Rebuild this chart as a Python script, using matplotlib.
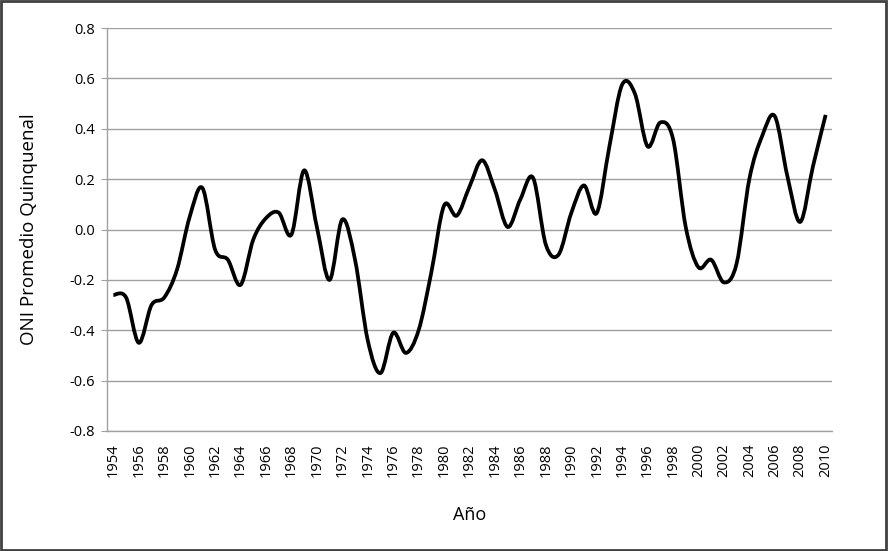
import numpy as np
import matplotlib
matplotlib.use("Agg")
import matplotlib.pyplot as plt
from matplotlib.path import Path
from matplotlib.patches import PathPatch, Rectangle

plt.rcParams['font.family'] = ['Open Sans', 'DejaVu Sans']

# ONI five-year mean
years = list(range(1954, 2011))
oni = [-0.26, -0.27, -0.45, -0.30, -0.27, -0.16, 0.05, 0.165, -0.08, -0.12,
       -0.22, -0.04, 0.045, 0.067, -0.02, 0.235, 0.01, -0.20, 0.04, -0.12,
       -0.44, -0.57, -0.41, -0.49, -0.40, -0.17, 0.095, 0.055, 0.17, 0.275,
       0.157, 0.01, 0.12, 0.205, -0.06, -0.10, 0.065, 0.175, 0.065, 0.33,
       0.575, 0.54, 0.33, 0.425, 0.36, 0.01, -0.15, -0.12, -0.21, -0.135,
       0.20, 0.37, 0.45, 0.21, 0.03, 0.25, 0.455]
yticks = [-0.8, -0.6, -0.4, -0.2, 0.0, 0.2, 0.4, 0.6, 0.8]


def smooth_path(x, y, t=1/6):
    # Excel-like smoothed line: cubic bezier segments with catmull-rom tangents
    x = np.asarray(x, float)
    y = np.asarray(y, float)
    verts = [(x[0], y[0])]
    codes = [Path.MOVETO]
    n = len(x)
    for i in range(n - 1):
        x0, y0 = (x[i - 1], y[i - 1]) if i > 0 else (x[i], y[i])
        x3, y3 = (x[i + 2], y[i + 2]) if i + 2 < n else (x[i + 1], y[i + 1])
        c1 = (x[i] + (x[i + 1] - x0) * t, y[i] + (y[i + 1] - y0) * t)
        c2 = (x[i + 1] - (x3 - x[i]) * t, y[i + 1] - (y3 - y[i]) * t)
        verts += [c1, c2, (x[i + 1], y[i + 1])]
        codes += [Path.CURVE4] * 3
    return Path(verts, codes)


fig = plt.figure(figsize=(8.88, 5.51), dpi=100)
ax = fig.add_axes([107/888, 1 - 431/551, (832 - 107)/888, (431 - 28)/551])

xpos = np.arange(len(years))
ax.add_patch(PathPatch(smooth_path(xpos, oni), facecolor='none',
                       edgecolor='black', lw=2.7, capstyle='butt',
                       joinstyle='round'))

ax.set_xlim(-0.5, len(years) - 0.5)
ax.set_ylim(-0.8, 0.8)
ax.set_yticks(yticks)
ax.set_yticklabels([f"{v:.1f}" for v in yticks], fontsize=10.5)
ax.set_xticks(xpos[::2])
ax.set_xticklabels([str(y) for y in years[::2]], rotation=90, fontsize=10.5)
ax.tick_params(axis='x', length=0, pad=9)
ax.tick_params(axis='y', length=4, color='#a0a0a0', pad=5)
ax.grid(axis='y', color='#a0a0a0', lw=1.0)
ax.set_axisbelow(True)
for s in ['top', 'right']:
    ax.spines[s].set_visible(False)
for s in ['left', 'bottom']:
    ax.spines[s].set_color('#a0a0a0')
    ax.spines[s].set_linewidth(1.0)

ax.set_ylabel("ONI Promedio Quinquenal", fontsize=13.5, labelpad=22)
ax.set_xlabel("Año", fontsize=13, labelpad=21)

fig.patches.append(Rectangle((0.001, 0.002), 0.997, 0.996, transform=fig.transFigure,
                             fill=False, edgecolor='#404040', lw=2))

fig.savefig("out.png", dpi=100)
